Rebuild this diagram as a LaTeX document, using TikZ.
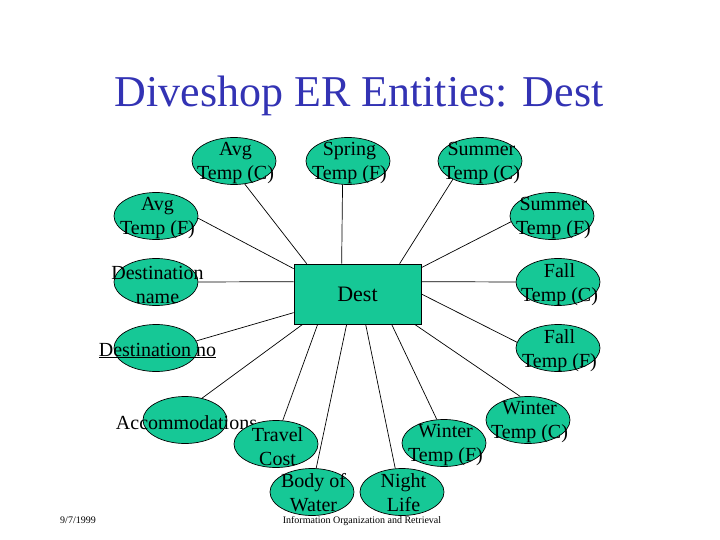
\documentclass[tikz,border=0pt]{standalone}
\usepackage{fontspec}
\setmainfont{Liberation Serif}
\usetikzlibrary{shapes.geometric,calc}
\definecolor{erGreen}{RGB}{22,200,150}
\definecolor{titleBlue}{RGB}{51,51,180}
\begin{document}
\begin{tikzpicture}[x=1pt,y=-1pt,
    attr/.style={ellipse,draw,fill=erGreen,line width=.7pt,inner sep=0pt,
                 minimum width=84pt,minimum height=47pt},
    attrtext/.style={align=center,inner sep=0pt,xshift=1.5pt,yshift=-2.5pt,
                     font=\fontsize{20}{24}\selectfont},
    entity/.style={rectangle,draw,fill=erGreen,line width=.7pt,inner sep=0pt,
                   minimum width=127pt,minimum height=60pt,font=\fontsize{22}{26}\selectfont},
    footer/.style={anchor=base,inner sep=0pt,font=\fontsize{10}{12}\selectfont},
    link/.style={line width=.7pt}]

    \useasboundingbox (0,0) rectangle (720,540);

%% title and footer
    \node[anchor=base,text=titleBlue,font=\fontsize{44}{50}\selectfont] (title) at (359,107) {Diveshop ER Entities: Dest};
    \node[footer] (date) at (78,523) {9/7/1999};
    \node[footer] (course) at (362,523) {Information Organization and Retrieval};

%% entity
    \node[entity] (dest) at (357.5,294) {Dest};

%% attributes
    \node[attr,label={[attrtext]center:Avg\\Temp (C)}] (avgC) at (234,161) {};
    \node[attr,label={[attrtext]center:Spring\\Temp (F)}] (springF) at (348,161) {};
    \node[attr,label={[attrtext]center:Summer\\Temp (C)}] (summerC) at (480,161) {};
    \node[attr,label={[attrtext]center:Avg\\Temp (F)}] (avgF) at (156,216) {};
    \node[attr,label={[attrtext]center:Summer\\Temp (F)}] (summerF) at (552,216) {};
    \node[attr,label={[attrtext]center:Destination\\name}] (destName) at (156,282) {};
    \node[attr,label={[attrtext]center:Fall\\Temp (C)}] (fallC) at (558,282) {};
    \node[attr,label={[attrtext]center:\underline{Destination no}}] (destNo) at (156,348) {};
    \node[attr,label={[attrtext]center:Fall\\Temp (F)}] (fallF) at (558,348) {};
    \node[attr,label={[attrtext]center:Accommodations}] (accom) at (185,420) {};
    \node[attr,label={[attrtext]center:Winter\\Temp (C)}] (winterC) at (528,420) {};
    \node[attr,label={[attrtext]center:Travel\\Cost}] (travel) at (276,444) {};
    \node[attr,label={[attrtext]center:Winter\\Temp (F)}] (winterF) at (444,443) {};
    \node[attr,label={[attrtext,yshift=1.5pt]center:Body of\\Water}] (body) at (312,492) {};
    \node[attr,label={[attrtext,yshift=1.5pt]center:Night\\Life}] (night) at (402,492) {};

%% links, top side
    \draw[link] ($(dest.north west)+(13,0)$) -- (avgC.-65);
    \draw[link] ($(dest.north west)+(48,0)$) -- (springF.-103);
    \draw[link] ($(dest.north west)+(106,0)$) -- (summerC.-146);
%% left side
    \draw[link] ($(dest.north west)+(0,5)$) -- (avgF.-3);
    \draw[link] ($(dest.north west)+(0,18)$) -- (destName.east);
    \draw[link] ($(dest.north west)+(0,49)$) -- (destNo.10);
%% right side
    \draw[link] ($(dest.north east)+(0,4)$) -- (summerF.188);
    \draw[link] ($(dest.north east)+(0,18)$) -- (fallC.west);
    \draw[link] (dest.east) -- (fallF.172);
%% bottom side
    \draw[link] ($(dest.south west)+(9,0)$) -- (accom.52);
    \draw[link] ($(dest.south west)+(24,0)$) -- (travel.74);
    \draw[link] ($(dest.south west)+(53,0)$) -- (body.80);
    \draw[link] ($(dest.south west)+(72,0)$) -- (night.106);
    \draw[link] ($(dest.south west)+(98,0)$) -- (winterF.107);
    \draw[link] ($(dest.south west)+(121,0)$) -- (winterC.108);

\end{tikzpicture}
\end{document}
